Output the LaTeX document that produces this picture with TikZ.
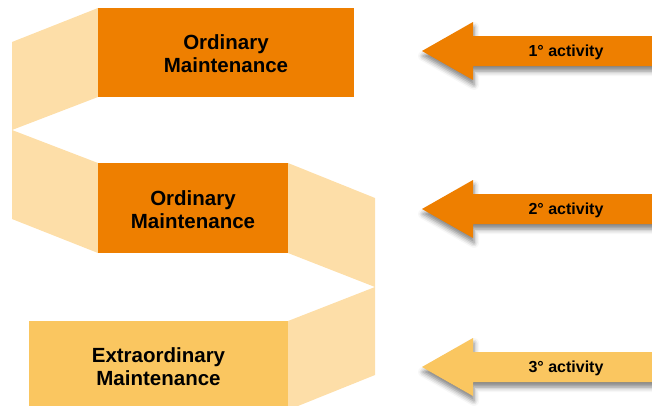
\documentclass[tikz,border=0pt]{standalone}
\usepackage{fontspec}
\setmainfont{Liberation Sans}
\usetikzlibrary{shadows.blur}
\definecolor{darkor}{RGB}{238,127,0}
\definecolor{lightor}{RGB}{253,222,168}
\definecolor{midor}{RGB}{250,198,96}
\begin{document}
\begin{tikzpicture}[x=1pt,y=-1pt,
  box/.style={inner sep=0pt, align=center, font=\bfseries\fontsize{20.5}{23}\selectfont},
  ribbon/.style={fill=lightor},
  arr/.style={blur shadow={shadow xshift=1pt,shadow yshift=-5pt,shadow blur radius=5pt,shadow opacity=50}},
  lbl/.style={inner sep=0pt, font=\bfseries\fontsize{16}{19}\selectfont}]
\useasboundingbox (0,0) rectangle (652,405);
\clip (0,0) rectangle (652,405);
% ribbon panels
\fill[ribbon] (98,8) -- (12,42) -- (12,130) -- (98,97) -- cycle;
\fill[ribbon] (12,130) -- (98,163) -- (98,253) -- (12,219) -- cycle;
\fill[ribbon] (288,163) -- (375,198) -- (375,287) -- (288,253) -- cycle;
\fill[ribbon] (375,287) -- (288,321) -- (288,410) -- (375,375) -- cycle;
% boxes
\node[box, fill=darkor, minimum width=256, minimum height=89] (b1) at (226,52.5) {};
\node[box] (t1) at (226,54) {Ordinary\\Maintenance};
\node[box, fill=darkor, minimum width=190, minimum height=90] (b2) at (193,208) {};
\node[box] (t2) at (193,210) {Ordinary\\Maintenance};
\node[box, fill=midor, minimum width=259, minimum height=89] (b3) at (158.5,365.5) {};
\node[box] (t3) at (158.5,367) {Extraordinary\\Maintenance};
% arrows
\foreach \c/\col/\t/\n in {51/darkor/1/a1, 209/darkor/2/a2, 367/midor/3/a3}{
  \fill[\col, arr] (422,\c) -- (473,\c-29) -- (473,\c-15) -- (670,\c-15) -- (670,\c+15) -- (473,\c+15) -- (473,\c+29) -- cycle;
  \node[lbl] (\n) at (566,\c+1.5) {\t° activity};
}
\end{tikzpicture}
\end{document}
